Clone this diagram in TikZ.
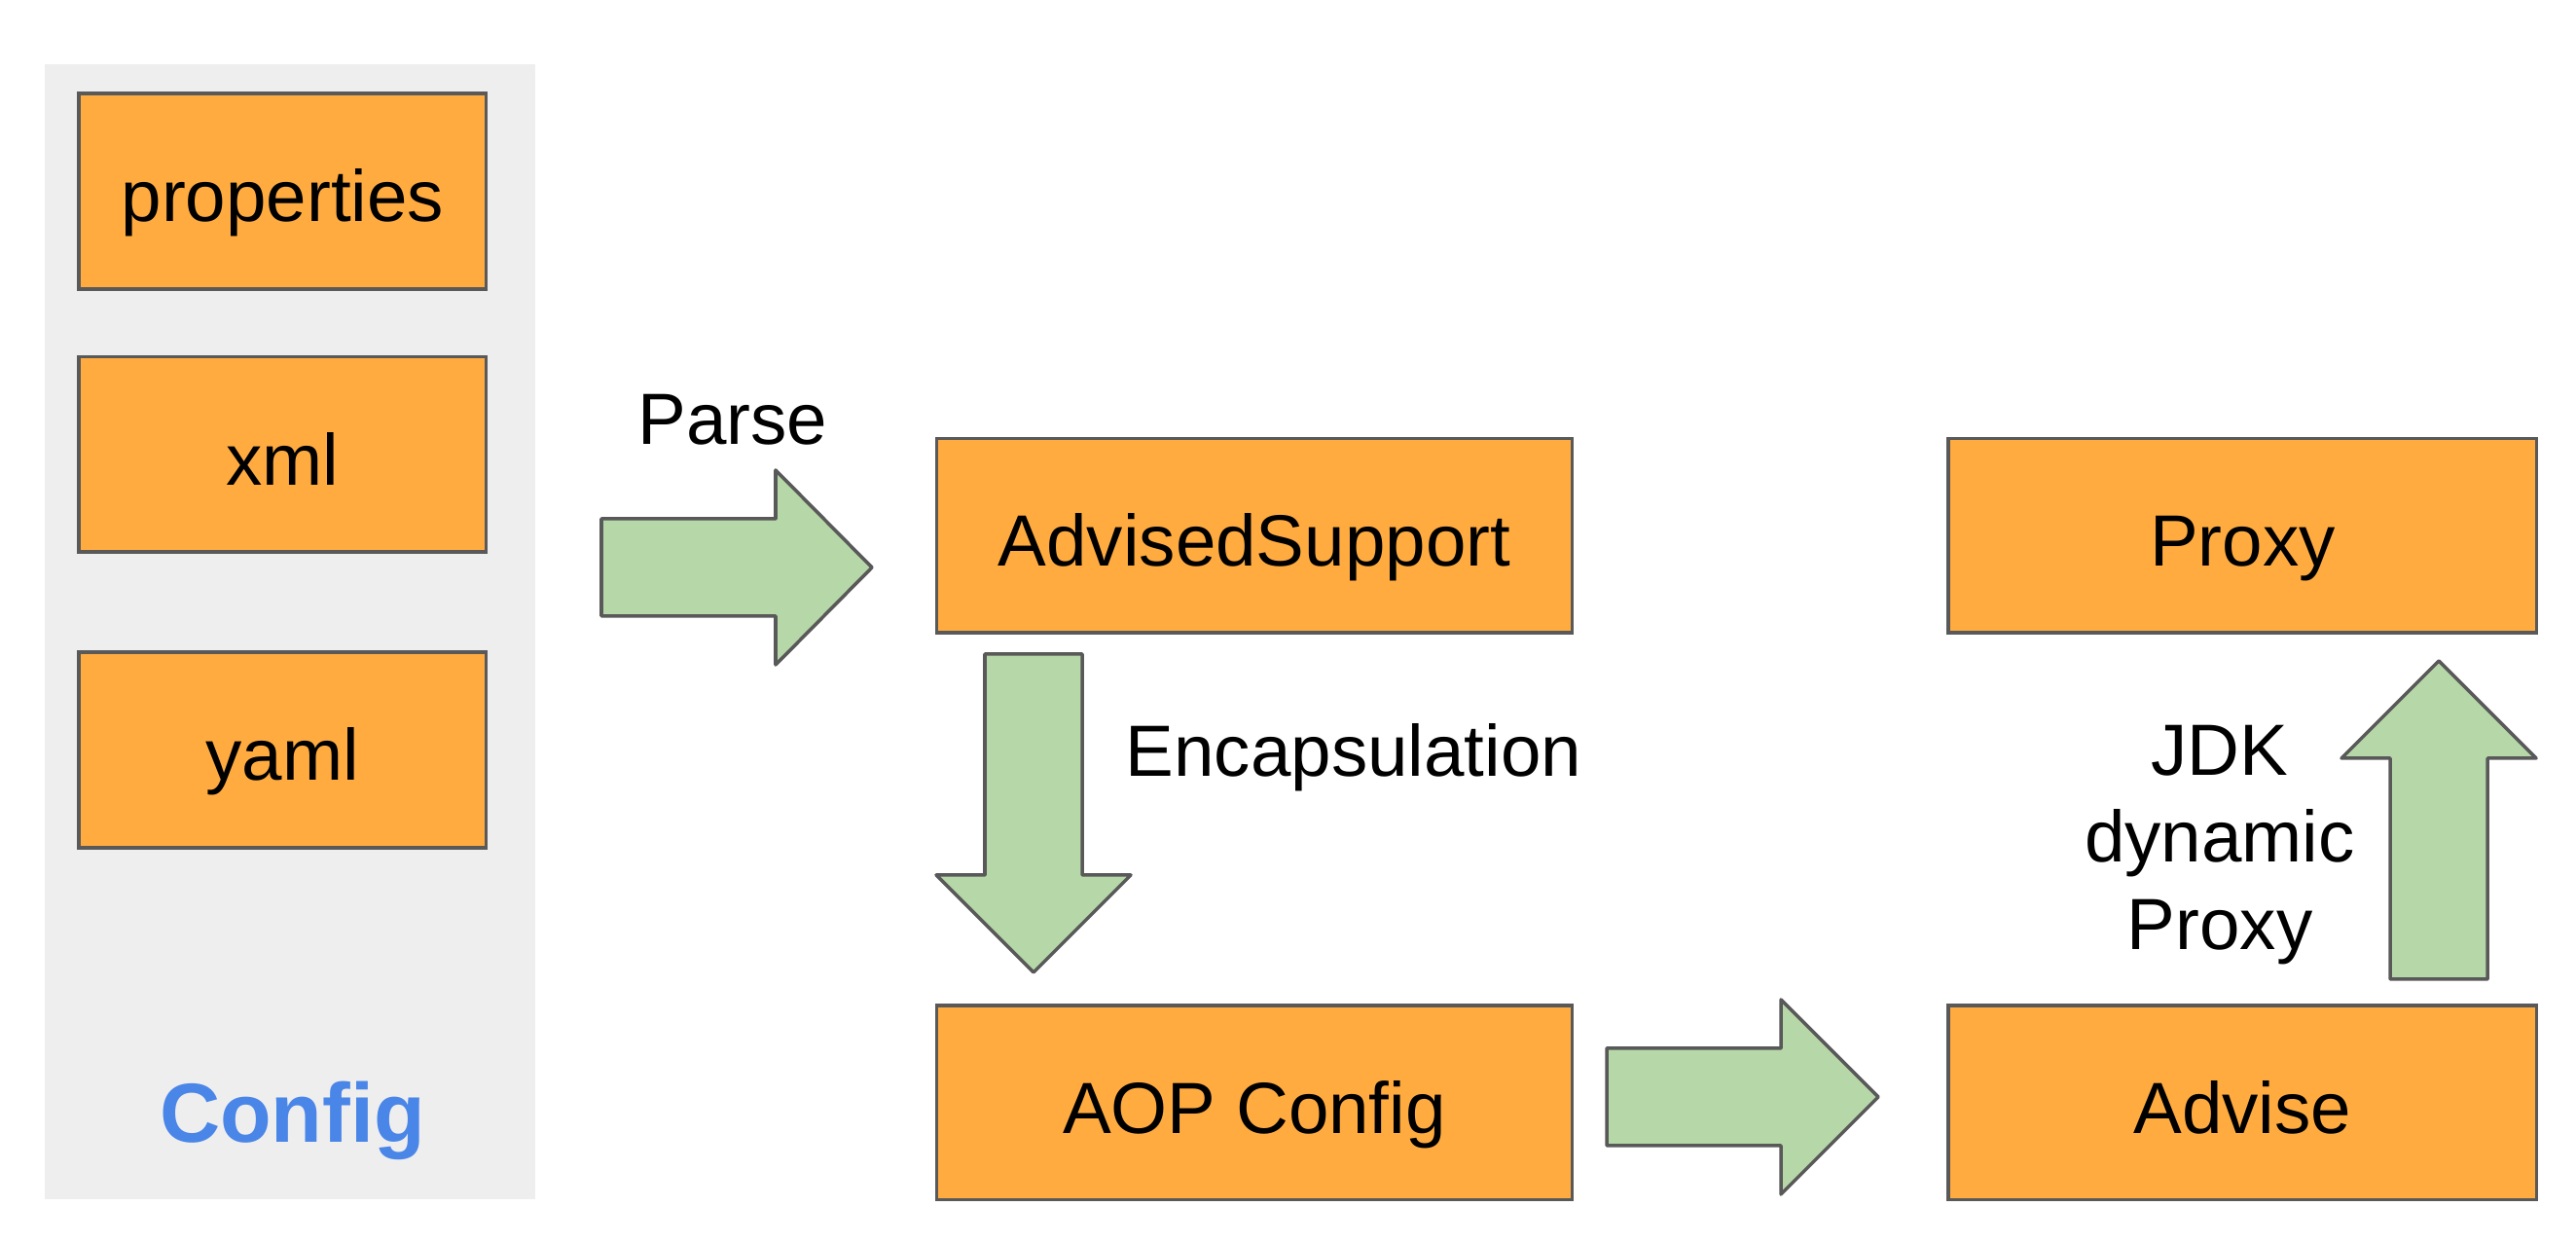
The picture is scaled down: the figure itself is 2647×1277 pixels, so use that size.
\documentclass[tikz,border=0pt]{standalone}
\usepackage{fontspec}
\setmainfont{Liberation Sans}
\definecolor{boxorange}{HTML}{FFAB40}
\definecolor{arrowgreen}{HTML}{B6D7A8}
\definecolor{edgegray}{HTML}{595959}
\definecolor{panelgray}{HTML}{EEEEEE}
\definecolor{configblue}{HTML}{4A86E8}
\begin{document}
\begin{tikzpicture}[x=0.01cm,y=-0.01cm,
  orangebox/.style={draw=edgegray,fill=boxorange,line width=1pt,inner sep=0pt,
    text height=19pt,text depth=1.2pt,
    font=\fontsize{21.2}{25.5}\selectfont},
  blockarrow/.style={draw=edgegray,fill=arrowgreen,line width=1pt,line join=round},
  labeltext/.style={inner sep=0pt,font=\fontsize{21.2}{25.5}\selectfont,align=center}]
\useasboundingbox (0,0) rectangle (2647,1277);
% panel
\fill[panelgray] (45.6,65.8) rectangle (550.4,1232.4);
\node[orangebox,minimum width=418.7*0.01cm,minimum height=200.9*0.01cm] (props) at (290.35,196.65) {properties};
\node[orangebox,minimum width=418.7*0.01cm,minimum height=200.9*0.01cm] (xml) at (290.35,466.75) {xml};
\node[orangebox,minimum width=418.7*0.01cm,minimum height=200.9*0.01cm] (yaml) at (290.35,770.65) {yaml};
\node[inner sep=0pt,text=configblue,font=\fontsize{24.5}{28}\selectfont\bfseries] (config) at (300.5,1151) {Config};
% main boxes
\node[orangebox,minimum width=653.3*0.01cm,minimum height=199.3*0.01cm] (adv) at (1288.95,550.35) {AdvisedSupport};
\node[orangebox,minimum width=653.3*0.01cm,minimum height=199.3*0.01cm] (aop) at (1288.95,1132.8) {AOP Config};
\node[orangebox,minimum width=604.4*0.01cm,minimum height=199.3*0.01cm] (proxy) at (2304.4,550.35) {Proxy};
\node[orangebox,minimum width=604.4*0.01cm,minimum height=199.3*0.01cm] (advise) at (2304.4,1132.8) {Advise};
% block arrows
\draw[blockarrow] (618,533) -- (797,533) -- (797,483) -- (896,583) -- (797,683) -- (797,633) -- (618,633) -- cycle;
\draw[blockarrow] (1012,672) -- (1112,672) -- (1112,899) -- (1162,899) -- (1062,999) -- (962,899) -- (1012,899) -- cycle;
\draw[blockarrow] (1651,1077) -- (1830,1077) -- (1830,1027) -- (1930,1127) -- (1830,1227) -- (1830,1177) -- (1651,1177) -- cycle;
\draw[blockarrow] (2456,1006) -- (2456,779) -- (2406,779) -- (2506,679) -- (2606,779) -- (2556,779) -- (2556,1006) -- cycle;
% labels
\node[labeltext] (parse) at (753,431) {Parse};
\node[labeltext,anchor=west] (encap) at (1156,778) {Encapsulation};
\node[labeltext] (jdk) at (2281,868) {JDK\\dynamic\\Proxy};
\end{tikzpicture}
\end{document}
